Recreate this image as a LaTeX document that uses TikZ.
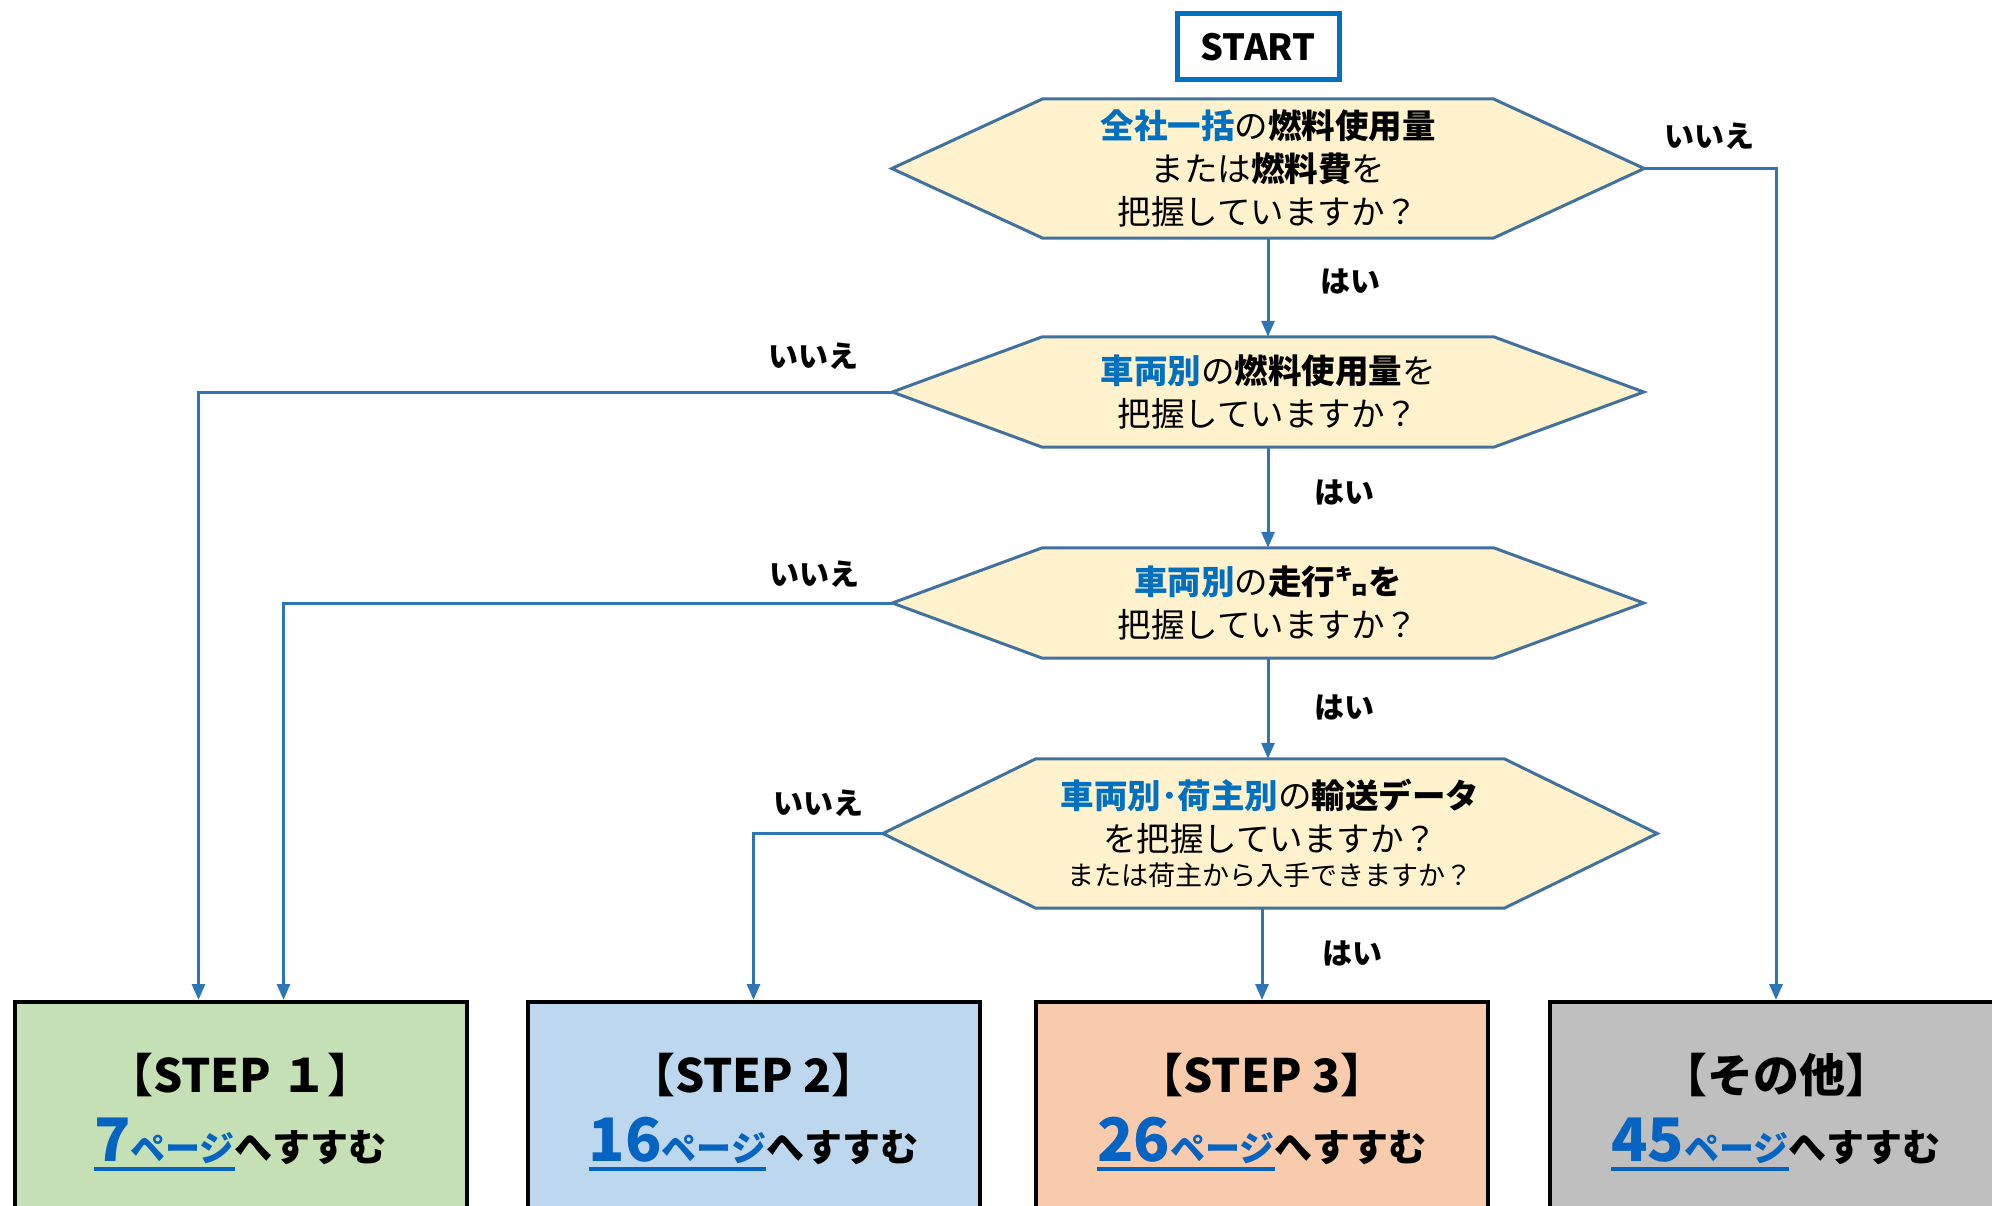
\documentclass[tikz,border=0pt]{standalone}
\usepackage{fontspec}
\setmainfont{Noto Sans CJK JP}
\usetikzlibrary{arrows.meta,backgrounds}
\definecolor{qfill}{HTML}{FFF2CC}
\definecolor{qline}{HTML}{41719C}
\definecolor{arrowblue}{HTML}{2E75B6}
\definecolor{titleblue}{HTML}{0070C0}
\definecolor{linkblue}{HTML}{0563C1}
\definecolor{stepone}{HTML}{C5E0B4}
\definecolor{steptwo}{HTML}{BDD7EE}
\definecolor{stepthree}{HTML}{F8CBAD}
\definecolor{stepother}{HTML}{BFBFBF}
\newcommand\bluebf[1]{\textbf{\color{titleblue}#1}}
\newcommand\pglink[1]{{\color{linkblue}\setbox0=\hbox{\fontsize{60}{60}\selectfont #1\fontsize{35}{35}\selectfont ページ}\rlap{\rule[-9pt]{\wd0}{4pt}}\box0}{\fontsize{38}{38}\selectfont へすすむ}}

\begin{document}
\begin{tikzpicture}[x=1pt,y=-1pt]
\tikzstyle{every node}+=[inner sep=0pt]
\tikzstyle{question}=[rectangle,align=center,font=\fontsize{33.5}{43}\selectfont]
\tikzstyle{hexline}=[draw=qline,fill=qfill,line width=3pt,line join=miter]
\tikzstyle{flow}=[draw=arrowblue,line width=3pt,-{Triangle[length=16pt,width=13pt]}]
\tikzstyle{lbl}=[font=\bfseries\fontsize{30}{36}\selectfont]
\tikzstyle{stepbox}=[draw=black,line width=4pt,minimum width=452pt,minimum height=220pt,align=center,font=\bfseries\fontsize{46}{69}\selectfont]
\useasboundingbox (0,0) rectangle (1992,1206);
\clip (0,0) rectangle (1992,1206);

\node[draw=titleblue,line width=5pt,minimum width=162pt,minimum height=66pt,font=\bfseries\fontsize{36}{40}\selectfont] (start) at (1258,47) {START};

\node[question,minimum width=752pt,minimum height=139pt] (q1) at (1268,168.5)
  {\bluebf{全社一括}の\textbf{燃料使用量}\\または\textbf{燃料費}を\\把握していますか？};
\node[question,minimum width=751pt,minimum height=110pt] (q2) at (1268,392)
  {\bluebf{車両別}の\textbf{燃料使用量}を\\把握していますか？};
\node[question,minimum width=751pt,minimum height=110pt] (q3) at (1268,603)
  {\bluebf{車両別}の\textbf{走行㌔を}\\把握していますか？};
\node[question,minimum width=774pt,minimum height=149pt] (q4) at (1270,833.5)
  {\bluebf{車両別･荷主別}の\textbf{輸送データ}\\を把握していますか？\\[-9pt]{\fontsize{27}{33}\selectfont または荷主から入手できますか？}};

\begin{scope}[on background layer]
\foreach \q/\d in {q1/151,q2/150,q3/150,q4/153}
  \draw[hexline] (\q.west) -- ([xshift=\d pt]\q.north west) -- ([xshift=-\d pt]\q.north east) -- (\q.east) -- ([xshift=-\d pt]\q.south east) -- ([xshift=\d pt]\q.south west) -- cycle;
\end{scope}

\node[stepbox,fill=stepone] (s1) at (240.5,1112) {【STEP １】\\\pglink{7}};
\node[stepbox,fill=steptwo] (s2) at (753.5,1112) {【STEP 2】\\\pglink{16}};
\node[stepbox,fill=stepthree] (s3) at (1262,1112) {【STEP 3】\\\pglink{26}};
\node[stepbox,fill=stepother] (s4) at (1776,1112) {【その他】\\\pglink{45}};

\draw[flow] (q1.south) -- (q2.north);
\draw[flow] (q2.south) -- (q3.north);
\draw[flow] (q3.south) -- (q3.south |- q4.north);
\draw[flow] (q4.south -| s3.north) -- (s3.north);
\draw[flow] (q1.east) -| (s4.north);
\draw[flow] (q2.west) -| ([xshift=-42pt]s1.north);
\draw[flow] (q3.west) -| ([xshift=43pt]s1.north);
\draw[flow] (q4.west) -| (s2.north);

\node[lbl] (yes1) at (1350,282) {はい};
\node[lbl] (yes2) at (1344,493) {はい};
\node[lbl] (yes3) at (1344,708) {はい};
\node[lbl] (yes4) at (1352,953) {はい};
\node[lbl] (no1) at (1709,136) {いいえ};
\node[lbl] (no2) at (813,356) {いいえ};
\node[lbl] (no3) at (814,574) {いいえ};
\node[lbl] (no4) at (818,803) {いいえ};
\end{tikzpicture}
\end{document}
